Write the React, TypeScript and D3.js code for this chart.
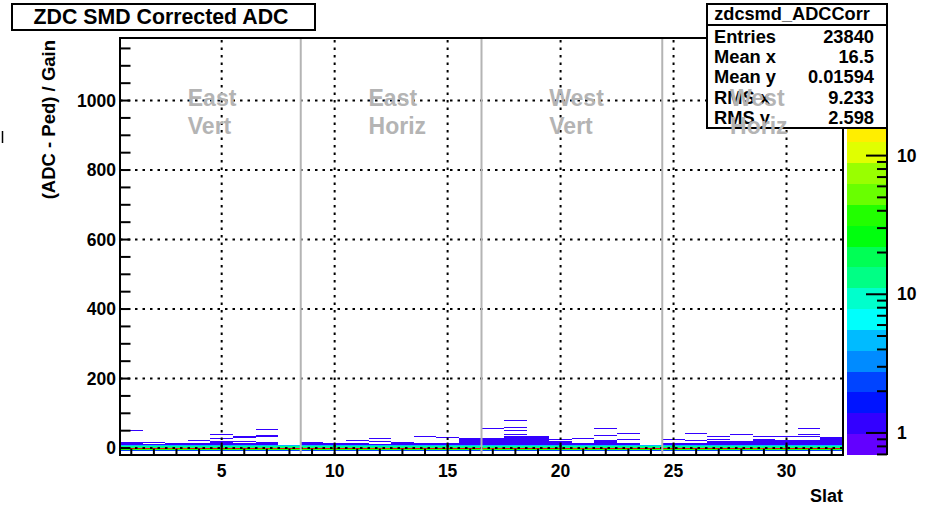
import React from 'react';
import * as d3 from 'd3';

// ---------- data ----------
const slats = [1,2,3,4,5,6,7,8,9,10,11,12,13,14,15,16,17,18,19,20,21,22,23,24,25,26,27,28,29,30,31,32];
// isolated single-count cells (y of the cell) per slat
const sparseLines: number[][] = [
  [50], [14], [], [21], [38, 27], [33, 30, 18], [53, 36, 33], [],
  [16], [13], [20], [26, 19], [], [32], [29], [28],
  [58], [79, 61, 50, 40], [], [24], [27], [58, 35], [41, 24], [],
  [24], [43, 20], [32, 24], [38], [32], [32], [56, 38, 32], [29],
];
// top of the continuous low-count band per slat (0 = no band)
const denseTop = [
  16, 10, 12, 12, 18, 14, 17, 0,
  12, 9, 12, 10, 16, 12, 14, 24,
  29, 35, 35, 18, 14, 21, 14, 0,
  14, 14, 18, 20, 24, 22, 22, 28,
];
// counts in the pedestal bin (y = 0) per slat
const peakCounts = [
  520, 610, 480, 650, 560, 590, 430, 700,
  680, 540, 600, 470, 620, 500, 580, 640,
  450, 520, 610, 560, 490, 630, 570, 690,
  540, 600, 510, 620, 470, 580, 530, 600,
];
const coreAbove = [[3, 12], [6, 4]];
const coreBelow = [[-3, 35], [-6, 2]];
const xTicks = [5, 10, 15, 20, 25, 30];
const yTicks = [0, 200, 400, 600, 800, 1000];
const groupBounds = [8.5, 16.5, 24.5];
const groupLabelX = [3.5, 11.5, 19.5, 27.5];
const groupLabels = [["East", "Vert"], ["East", "Horiz"], ["West", "Vert"], ["West", "Horiz"]];
const statsRows = [["Entries", "23840"], ["Mean x", "16.5"], ["Mean y", "0.01594"], ["RMS x", "9.233"], ["RMS y", "2.598"]];
const zTickValues = [1, 10, 100];
const zTickLabels = ["1", "10", "10"];

// ---------- layout ----------
const W = 930, H = 507;
const FL = 120, FR = 843, FT = 38, FB = 455;
const PL = 847, PR = 887;
const BIN = 3;
const Z_LOG_MIN = -0.159, Z_LOG_MAX = 2.848, NLEV = 20;
const FONT = "'Liberation Sans', Arial, Helvetica, sans-serif";

const x = d3.scaleLinear().domain([0.5, 32.5]).range([FL, FR]);
const y = d3.scaleLinear().domain([-20, 1180]).range([FB, FT]);
const z = d3.scaleLog().domain([10 ** Z_LOG_MIN, 10 ** Z_LOG_MAX]).range([FB, FT]);

const levelColor = (j: number) => {
  const ci = Math.floor((j + 0.99) * 50 / NLEV);
  const hue = 280 - (ci + 1) * 5.6;
  return d3.hsl(hue, 1, 0.5).formatHex();
};
const countColor = (c: number) => {
  const w = (Z_LOG_MAX - Z_LOG_MIN) / NLEV;
  let j = Math.floor((Math.log10(c) - Z_LOG_MIN) / w);
  j = Math.max(0, Math.min(NLEV - 1, j));
  return levelColor(j);
};

type Cell = { s: number; v: number; c: number };

export default function App() {
  const cells: Cell[] = [];
  slats.forEach((s, i) => {
    const m = new Map<number, number>();
    const add = (v: number, c: number) => {
      const b = Math.round(v / BIN) * BIN;
      m.set(b, Math.max(m.get(b) || 0, c));
    };
    if (denseTop[i] > 0) {
      for (let v = 9; v <= denseTop[i]; v += BIN) add(v, 1);
    }
    sparseLines[i].forEach(v => add(v, 1));
    coreAbove.forEach(([v, c]) => add(v, c));
    coreBelow.forEach(([v, c]) => add(v, c));
    add(0, peakCounts[i]);
    m.forEach((c, v) => cells.push({ s, v, c }));
  });

  const levels = d3.range(NLEV + 1).map(k => 10 ** (Z_LOG_MIN + k * (Z_LOG_MAX - Z_LOG_MIN) / NLEV));
  const zMinor: number[] = [];
  [0.1, 1, 10, 100].forEach(d => [2, 3, 4, 5, 6, 7, 8, 9].forEach(k => {
    const v = k * d;
    if (v > 10 ** Z_LOG_MIN && v < 10 ** Z_LOG_MAX) zMinor.push(v);
  }));

  const xMinor = d3.range(1, 33);
  const yMinor = d3.range(0, 1181, 50);

  return (
    <div style={{ position: 'absolute', left: 0, top: 0 }}>
      <svg width={W} height={H} style={{ display: 'block', background: '#fff' }} fontFamily={FONT}>
        <rect x={0} y={0} width={W} height={H} fill="#fff" />
        {/* histogram cells */}
        <g shapeRendering="crispEdges">
          {cells.map((d, k) => (
            <rect key={k} x={x(d.s - 0.5)} width={x(d.s + 0.5) - x(d.s - 0.5)}
              y={y(d.v + BIN / 2)} height={y(d.v - BIN / 2) - y(d.v + BIN / 2)}
              fill={countColor(d.c)} />
          ))}
        </g>
        {/* grid */}
        <g stroke="#000" strokeWidth={2} strokeDasharray="2.5,5">
          {xTicks.map(t => <line key={'gx' + t} x1={x(t)} x2={x(t)} y1={FB} y2={FT} />)}
          {yTicks.map(t => <line key={'gy' + t} x1={FL} x2={FR} y1={y(t)} y2={y(t)} />)}
        </g>
        {/* group boundaries */}
        <g stroke="#b4b4b4" strokeWidth={2}>
          {groupBounds.map(b => <line key={b} x1={x(b)} x2={x(b)} y1={FB} y2={FT} />)}
        </g>
        {/* axis ticks */}
        <g stroke="#000" strokeWidth={2}>
          {xMinor.map(t => <line key={'xm' + t} x1={x(t)} x2={x(t)} y1={FB} y2={FB - (t % 5 === 0 ? 12.5 : 6.3)} />)}
          {yMinor.map(t => <line key={'ym' + t} x1={FL} x2={FL + 10.5} y1={y(t)} y2={y(t)} />)}
        </g>
        {/* frame */}
        <rect x={FL} y={FT} width={FR - FL} height={FB - FT} fill="none" stroke="#000" strokeWidth={2} />
        {/* tick labels */}
        <g fontWeight="bold" fontSize={17.5} fill="#000">
          {xTicks.map(t => <text key={'xl' + t} x={x(t)} y={477} textAnchor="middle">{t}</text>)}
          {yTicks.map(t => <text key={'yl' + t} x={116} y={y(t) + 6} textAnchor="end">{t}</text>)}
        </g>
        <text x={FR} y={502} textAnchor="end" fontWeight="bold" fontSize={18}>Slat</text>
        <text transform={`translate(55,${FT + 2}) rotate(-90)`} textAnchor="end" fontWeight="bold" fontSize={18.5}>(ADC - Ped) / Gain</text>
        <line x1={2.5} x2={2.5} y1={131} y2={143} stroke="#000" strokeWidth={1.5} />
        {/* palette */}
        <g shapeRendering="crispEdges">
          {d3.range(NLEV).map(j => (
            <rect key={'p' + j} x={PL} width={PR - PL} y={z(levels[j + 1])} height={z(levels[j]) - z(levels[j + 1])} fill={levelColor(j)} />
          ))}
        </g>
        <line x1={PR} x2={PR} y1={FT} y2={FB} stroke="#000" strokeWidth={2} />
        <g stroke="#000" strokeWidth={2}>
          {zTickValues.map(v => <line key={'zt' + v} x1={PR} x2={PR - 21} y1={z(v)} y2={z(v)} />)}
          {zMinor.map(v => <line key={'zm' + v} x1={PR} x2={PR - 10} y1={z(v)} y2={z(v)} />)}
        </g>
        <g fontWeight="bold" fontSize={17.5}>
          {zTickValues.map((v, k) => <text key={'zl' + v} x={897} y={z(v) + 6}>{zTickLabels[k]}</text>)}
        </g>
        {/* title */}
        <rect x={12} y={4} width={303} height={26} fill="#fff" stroke="#000" strokeWidth={2} />
        <text x={161} y={24} textAnchor="middle" fontWeight="bold" fontSize={21.3}>ZDC SMD Corrected ADC</text>
        {/* stats box */}
        <rect x={707} y={4} width={180} height={124} fill="#fff" stroke="#000" strokeWidth={2} />
        <line x1={707} x2={887} y1={25} y2={25} stroke="#000" strokeWidth={2} />
        <text x={792} y={20} textAnchor="middle" fontWeight="bold" fontSize={18.2}>zdcsmd_ADCCorr</text>
        {statsRows.map((r, k) => (
          <g key={r[0]} fontWeight="bold" fontSize={18.3}>
            <text x={714} y={42.7 + k * 20.3}>{r[0]}</text>
            <text x={874} y={42.7 + k * 20.3} textAnchor="end">{r[1]}</text>
          </g>
        ))}
        {/* group labels */}
        <g fontWeight="bold" fontSize={23} fill="#b4b4b4">
          {groupLabels.map((g, k) => (
            <g key={k}>
              <text x={x(groupLabelX[k])} y={y(985)}>{g[0]}</text>
              <text x={x(groupLabelX[k])} y={y(905)}>{g[1]}</text>
            </g>
          ))}
        </g>
      </svg>
    </div>
  );
}
